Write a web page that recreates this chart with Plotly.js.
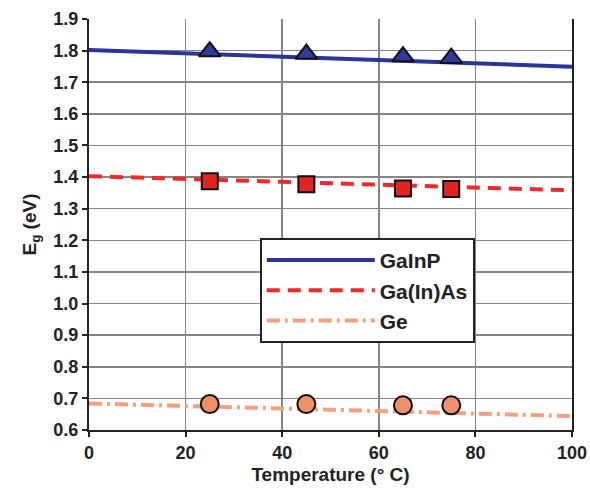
<!DOCTYPE html>
<html>
<head>
<meta charset="utf-8">
<script src="https://cdn.plot.ly/plotly-3.0.1.min.js"></script>
<style>html,body{margin:0;padding:0;background:#fff;}#chart{width:590px;height:493px;}</style>
</head>
<body>
<div id="chart"></div>
<script>
// Fit lines (temperature, Eg)
const lineT = [0, 100];
const gainpLine = [1.802, 1.749];
const gainasLine = [1.403, 1.358];
const geLine = [0.684, 0.644];

// Measured points
const measT = [25, 45, 65, 75];
const gainpMeas = [1.797, 1.789, 1.781, 1.776];
const gainasMeas = [1.387, 1.377, 1.364, 1.362];
const geMeas = [0.682, 0.682, 0.678, 0.678];

const seriesNames = ["GaInP", "Ga(In)As", "Ge"];
const xTicks = [0, 20, 40, 60, 80, 100];
const yTicks = [0.6,0.7,0.8,0.9,1.0,1.1,1.2,1.3,1.4,1.5,1.6,1.7,1.8,1.9];
const yTickText = ["0.6","0.7","0.8","0.9","1.0","1.1","1.2","1.3","1.4","1.5","1.6","1.7","1.8","1.9"];

const blue = "#2a3596", red = "#ee2a2a", orange = "#f5a07c";
const fam = "Liberation Sans, Arial, sans-serif";

const traces = [
  {x: lineT, y: gainpLine, mode: "lines", name: seriesNames[0], line: {color: blue, width: 4, dash: "solid"}},
  {x: lineT, y: gainasLine, mode: "lines", name: seriesNames[1], line: {color: red, width: 4, dash: "13px,8px"}},
  {x: lineT, y: geLine, mode: "lines", name: seriesNames[2], line: {color: orange, width: 4, dash: "13px,5px,3px,5px"}},
  {x: measT, y: gainpMeas, mode: "markers", showlegend: false, marker: {symbol: "triangle-up", size: 19, color: "#2e3a9c", line: {color: "#111", width: 2}}},
  {x: measT, y: gainasMeas, mode: "markers", showlegend: false, marker: {symbol: "square", size: 16, color: "#e42222", line: {color: "#111", width: 2}}},
  {x: measT, y: geMeas, mode: "markers", showlegend: false, marker: {symbol: "circle", size: 18, color: "#f0906a", line: {color: "#111", width: 2}}}
];

const tickFont = {family: fam, size: 18, color: "#222", weight: "bold"};

const layout = {
  width: 590, height: 493,
  margin: {l: 89, r: 18, t: 19, b: 63},
  paper_bgcolor: "#fff", plot_bgcolor: "#fff",
  showlegend: true,
  legend: {
    x: 0.354, y: 0.467, xanchor: "left", yanchor: "top",
    bgcolor: "#fff", bordercolor: "#222", borderwidth: 1.8,
    font: {family: fam, size: 21, color: "#222", weight: "bold"},
    itemwidth: 108, tracegroupgap: 0
  },
  xaxis: {
    range: [0, 100], tickvals: xTicks, ticktext: xTicks.map(String),
    showgrid: true, gridcolor: "#858585", gridwidth: 1.6,
    showline: true, linecolor: "#222", linewidth: 2, mirror: false,
    ticks: "outside", ticklen: 5, tickwidth: 2, tickcolor: "#222",
    zeroline: false, tickfont: tickFont,
    title: {text: "Temperature (° C)", font: {family: fam, size: 19, color: "#222", weight: "bold"}, standoff: 6}
  },
  yaxis: {
    range: [0.6, 1.9], tickvals: yTicks, ticktext: yTickText,
    showgrid: true, gridcolor: "#858585", gridwidth: 1.6,
    showline: true, linecolor: "#222", linewidth: 2, mirror: true,
    ticks: "outside", ticklen: 5, tickwidth: 2, tickcolor: "#222",
    zeroline: false, tickfont: tickFont,
    title: {text: "E<sub>g</sub> (eV)", font: {family: fam, size: 19, color: "#222", weight: "bold"}, standoff: 12}
  }
};

Plotly.newPlot("chart", traces, layout, {displayModeBar: false, staticPlot: true});
</script>
</body>
</html>
